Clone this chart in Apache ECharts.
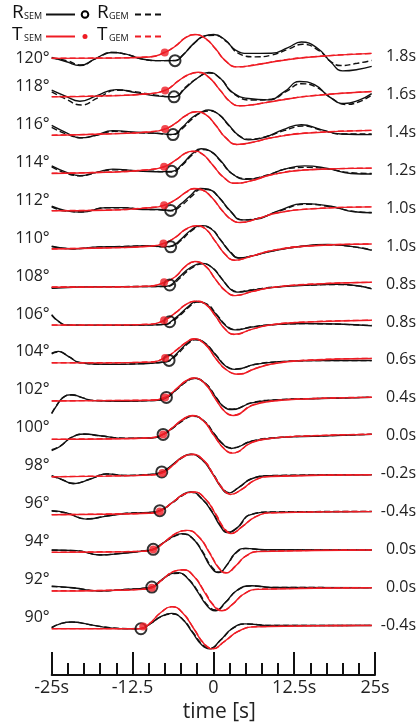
<!DOCTYPE html>
<html><head><meta charset="utf-8">
<script src="https://cdn.jsdelivr.net/npm/echarts@6/dist/echarts.min.js"></script>
<style>html,body{margin:0;padding:0;background:#fff}#c{width:419px;height:728px}</style>
</head><body><div id="c"></div>
<script>
// Epicentral distances (deg) and time-shift labels
const distances = [120,118,116,114,112,110,108,106,104,102,100,98,96,94,92,90];
const shiftLabels = ['1.8s','1.6s','1.4s','1.2s','1.0s','1.0s','0.8s','0.8s','0.6s','0.4s','0.0s','-0.2s','-0.4s','0.0s','0.0s','-0.4s'];
const xTickValues = [-25,-12.5,0,12.5,25];
const xTickLabels = ['-25s','-12.5','0','12.5s','25s'];

// pick markers: time [s] and amplitude offset
const circleT = [-5.93,-6.08,-6.24,-6.44,-6.6,-6.6,-6.75,-6.75,-6.85,-7.26,-7.77,-7.98,-8.28,-9.3,-9.51,-11.2];
const circleA = [-0.22,-0.13,-0.12,-0.06,-0.12,-0.04,-0.05,0.01,-0.03,0.02,0.07,0.09,0.05,0.01,0.02,-0.18];
const dotT = [-7.52,-7.46,-7.46,-7.62,-7.62,-7.72,-7.62,-7.62,-7.46,-7.46,-7.77,-7.87,-8.28,-9.3,-9.51,-10.84];
const dotA = [0.21,0.21,0.17,0.18,0.15,0.13,0.09,0.09,0.10,0.02,0.07,0.04,0.0,0.0,-0.02,-0.06];

// waveforms: [time s, amplitude]
const rSem120 = [[-25,-0.05],[-22.7,-0.28],[-20.65,-0.48],[-18.35,-0.14],[-15.8,0.21],[-13.5,0.12],[-11.45,-0.10],[-8.9,-0.22],[-5.9,-0.22],[-4.81,0.03],[-3.02,0.69],[-1.48,1.07],[0.05,1.16],[1.84,0.87],[3.37,0.35],[5.42,0.16],[9.0,0.17],[11.55,0.47],[13.6,0.76],[16.16,0.42],[18.2,-0.31],[19.99,-0.76],[22.29,-0.69],[24.49,-0.52]];
const rGem120 = [[-25,-0.10],[-22.7,-0.22],[-20.4,-0.45],[-18.1,-0.10],[-15.5,0.21],[-13.25,0.09],[-10.94,-0.14],[-8.38,-0.22],[-5.9,-0.21],[-4.81,0.05],[-3.02,0.67],[-1.38,1.07],[0.15,1.12],[2.1,0.76],[3.89,0.16],[6.44,-0.02],[9.0,0.07],[11.55,0.38],[13.85,0.64],[16.4,0.29],[18.2,-0.28],[19.7,-0.48],[22.29,-0.36],[24.49,-0.21]];
const tSem120 = [[-25,-0.10],[-16.56,-0.09],[-9.92,-0.03],[-7.52,0.21],[-5.83,0.55],[-4.29,0.99],[-2.86,1.16],[-1.23,0.95],[0.31,0.42],[1.84,-0.22],[3.63,-0.55],[6.44,-0.45],[10.02,-0.24],[15.13,-0.03],[24.49,0.16]];
const tGem120 = [[-25,-0.09],[-16.5,-0.08],[-9.9,-0.02],[-7.5,0.22],[-5.8,0.57],[-4.3,1.0],[-2.85,1.15],[-1.2,0.93],[0.35,0.39],[1.9,-0.24],[3.7,-0.55],[6.5,-0.44],[10.1,-0.23],[15.2,-0.02],[24.49,0.16]];

const rSem118 = [[-25,0.22],[-22.96,-0.08],[-20.65,-0.36],[-18.1,-0.08],[-15.03,0.25],[-11.96,0.09],[-8.9,-0.08],[-6.08,-0.13],[-4.29,0.34],[-2.5,0.85],[-0.72,1.16],[1.07,0.85],[2.86,0.13],[5.42,-0.22],[8.49,-0.29],[11.04,0.16],[13.34,0.68],[15.64,0.51],[17.94,-0.13],[20.24,-0.48],[22.54,-0.30],[24.49,0.04]];
const rGem118 = [[-25,0.13],[-22.96,-0.22],[-20.4,-0.56],[-17.84,-0.18],[-14.78,0.22],[-11.96,0.13],[-8.9,-0.04],[-6.08,-0.13],[-4.29,0.39],[-2.5,0.85],[-0.72,1.13],[1.22,0.79],[3.12,0.04],[5.93,-0.30],[9.0,-0.25],[11.3,0.16],[13.6,0.56],[15.9,0.39],[18.2,-0.18],[20.5,-0.53],[22.54,-0.39],[24.49,-0.04]];
const tSem118 = [[-25,-0.13],[-16.56,-0.08],[-10.43,0.02],[-7.46,0.21],[-5.32,0.73],[-3.78,1.06],[-2.35,1.17],[-0.72,0.91],[1.07,0.21],[2.61,-0.39],[3.99,-0.60],[6.44,-0.53],[10.02,-0.32],[15.13,-0.08],[24.49,0.15]];
const tGem118 = [[-25,-0.12],[-16.5,-0.07],[-10.4,0.03],[-7.45,0.22],[-5.3,0.74],[-3.75,1.05],[-2.3,1.15],[-0.68,0.89],[1.12,0.19],[2.66,-0.41],[4.05,-0.60],[6.5,-0.52],[10.1,-0.31],[15.2,-0.07],[24.49,0.15]];

const rSem116 = [[-25,0.36],[-22.7,-0.03],[-20.65,-0.29],[-18.35,-0.17],[-15.54,0.09],[-11.96,0.0],[-8.9,-0.05],[-6.24,-0.11],[-4.81,0.26],[-3.27,0.78],[-1.74,1.09],[-0.72,1.18],[0.82,0.95],[2.35,0.40],[3.89,-0.16],[5.42,-0.40],[7.98,-0.26],[10.79,0.14],[13.6,0.40],[16.67,0.14],[19.73,-0.09],[24.49,-0.12]];
const rGem116 = [[-25,0.26],[-22.7,-0.09],[-20.4,-0.29],[-18.1,-0.16],[-15.3,0.05],[-11.96,-0.02],[-8.9,-0.05],[-6.24,-0.13],[-4.81,0.19],[-3.27,0.71],[-1.64,1.06],[-0.56,1.12],[0.92,0.92],[2.45,0.33],[4.04,-0.19],[5.67,-0.36],[8.23,-0.22],[11.04,0.10],[13.85,0.33],[16.92,0.10],[19.73,-0.09],[24.49,-0.09]];
const tSem116 = [[-25,-0.16],[-16.56,-0.09],[-9.92,0.02],[-7.46,0.17],[-5.83,0.48],[-4.29,0.88],[-2.76,1.09],[-1.23,0.95],[0.31,0.40],[1.84,-0.26],[3.63,-0.64],[5.93,-0.54],[9.0,-0.29],[14.11,-0.05],[24.49,0.10]];
const tGem116 = [[-25,-0.15],[-16.5,-0.08],[-9.9,0.03],[-7.45,0.18],[-5.8,0.49],[-4.25,0.88],[-2.72,1.07],[-1.18,0.93],[0.36,0.37],[1.9,-0.28],[3.7,-0.64],[6.0,-0.53],[9.1,-0.28],[14.2,-0.04],[24.49,0.10]];

const rSem114 = [[-25,0.23],[-22.7,-0.11],[-20.65,-0.29],[-18.1,-0.11],[-15.54,0.06],[-11.96,-0.03],[-8.9,-0.08],[-6.44,-0.06],[-4.81,0.32],[-3.27,0.87],[-1.89,1.13],[-0.46,1.01],[1.07,0.53],[2.86,-0.17],[5.16,-0.48],[7.98,-0.31],[11.04,0.06],[14.11,0.23],[17.69,0.09],[21.27,-0.17],[24.49,-0.20]];
const rGem114 = [[-25,0.18],[-22.7,-0.17],[-20.4,-0.29],[-17.84,-0.10],[-15.3,0.02],[-11.96,-0.03],[-8.9,-0.06],[-6.44,-0.10],[-4.81,0.27],[-3.27,0.80],[-1.79,1.09],[-0.36,0.98],[1.17,0.46],[2.97,-0.20],[5.42,-0.45],[8.49,-0.24],[11.55,0.09],[14.62,0.15],[18.2,0.04],[21.27,-0.13],[24.49,-0.17]];
const tSem114 = [[-25,-0.17],[-16.56,-0.11],[-10.43,0.01],[-7.62,0.18],[-5.83,0.53],[-4.29,0.91],[-3.17,1.01],[-1.74,0.87],[-0.2,0.32],[1.58,-0.37],[3.37,-0.69],[5.93,-0.55],[9.0,-0.24],[14.11,0.01],[24.49,0.11]];
const tGem114 = [[-25,-0.16],[-16.5,-0.10],[-10.4,0.02],[-7.6,0.19],[-5.8,0.54],[-4.25,0.90],[-3.12,0.99],[-1.7,0.85],[-0.15,0.29],[1.63,-0.39],[3.42,-0.69],[6.0,-0.54],[9.1,-0.23],[14.2,0.02],[24.49,0.11]];

const rSem112 = [[-25,0.10],[-22.7,-0.14],[-20.4,-0.21],[-16.56,0.03],[-14.01,0.03],[-10.94,-0.07],[-8.38,-0.07],[-6.6,-0.12],[-5.06,0.21],[-3.53,0.67],[-1.99,1.04],[-0.72,1.0],[0.82,0.59],[2.61,-0.14],[4.4,-0.62],[6.44,-0.59],[10.02,-0.14],[14.11,0.24],[18.2,0.10],[21.78,-0.19],[24.49,-0.24]];
const rGem112 = [[-25,0.07],[-22.7,-0.16],[-20.4,-0.19],[-16.56,0.02],[-14.01,0.02],[-10.94,-0.05],[-8.38,-0.09],[-6.6,-0.14],[-4.91,0.15],[-3.37,0.62],[-1.84,1.0],[-0.61,0.97],[0.92,0.53],[2.71,-0.19],[4.5,-0.62],[6.7,-0.55],[10.28,-0.14],[14.37,0.21],[18.2,0.07],[21.78,-0.17],[24.49,-0.23]];
const tSem112 = [[-25,-0.14],[-16.56,-0.11],[-9.92,0.02],[-7.62,0.15],[-5.83,0.45],[-4.29,0.83],[-3.02,1.04],[-1.74,0.97],[-0.2,0.55],[1.33,-0.11],[2.86,-0.62],[4.14,-0.76],[6.95,-0.54],[10.02,-0.24],[15.13,-0.04],[24.49,0.07]];
const tGem112 = [[-25,-0.13],[-16.5,-0.10],[-9.9,0.03],[-7.6,0.16],[-5.8,0.46],[-4.25,0.83],[-2.98,1.02],[-1.7,0.95],[-0.15,0.52],[1.38,-0.14],[2.92,-0.63],[4.2,-0.75],[7.0,-0.53],[10.1,-0.23],[15.2,-0.03],[24.49,0.07]];

const rSem110 = [[-25,-0.01],[-21.68,-0.15],[-17.59,-0.04],[-14.01,-0.03],[-10.43,0.02],[-7.36,-0.03],[-6.34,0.02],[-5.06,0.34],[-3.53,0.82],[-1.99,1.08],[-0.46,0.94],[1.07,0.34],[2.61,-0.32],[3.89,-0.63],[5.93,-0.53],[9.0,-0.27],[13.6,-0.01],[17.69,0.08],[21.78,-0.04],[24.49,-0.22]];
const rGem110 = [[-25,-0.03],[-21.7,-0.14],[-17.6,-0.05],[-14.0,-0.02],[-10.4,0.01],[-7.4,-0.04],[-6.3,0.0],[-5.0,0.30],[-3.45,0.78],[-1.9,1.05],[-0.35,0.92],[1.15,0.31],[2.7,-0.33],[3.95,-0.62],[6.0,-0.52],[9.0,-0.26],[13.6,-0.02],[17.7,0.06],[21.8,-0.04],[24.49,-0.20]];
const tSem110 = [[-25,-0.15],[-16.56,-0.10],[-9.92,-0.01],[-7.72,0.13],[-5.83,0.47],[-4.29,0.89],[-2.6,1.08],[-1.23,0.91],[0.31,0.25],[1.84,-0.44],[3.22,-0.75],[5.93,-0.53],[9.0,-0.24],[14.11,-0.01],[24.49,0.11]];
const tGem110 = [[-25,-0.14],[-16.5,-0.09],[-9.9,0.0],[-7.7,0.14],[-5.8,0.48],[-4.25,0.88],[-2.55,1.06],[-1.18,0.89],[0.36,0.22],[1.9,-0.46],[3.28,-0.74],[6.0,-0.52],[9.1,-0.23],[14.2,0.0],[24.49,0.11]];

const rSem108 = [[-25,-0.22],[-21.68,-0.17],[-16.56,-0.14],[-11.45,-0.14],[-7.36,-0.12],[-6.6,-0.05],[-5.32,0.35],[-3.53,0.87],[-1.74,1.09],[-0.2,0.87],[1.33,0.26],[2.61,-0.26],[3.63,-0.43],[5.93,-0.33],[9.0,-0.19],[14.11,-0.07],[19.22,-0.02],[22.29,-0.09],[24.49,-0.26]];
const rGem108 = [[-25,-0.20],[-21.7,-0.16],[-16.6,-0.15],[-11.5,-0.13],[-7.4,-0.13],[-6.5,-0.07],[-5.2,0.30],[-3.4,0.83],[-1.65,1.06],[-0.1,0.85],[1.45,0.22],[2.75,-0.28],[3.8,-0.40],[6.1,-0.30],[9.1,-0.17],[14.2,-0.06],[19.3,-0.03],[22.3,-0.10],[24.49,-0.24]];
const tSem108 = [[-25,-0.17],[-16.56,-0.16],[-9.92,-0.12],[-7.62,0.07],[-5.83,0.40],[-4.29,0.95],[-2.86,1.19],[-1.23,0.95],[0.31,0.26],[1.84,-0.35],[3.37,-0.61],[5.93,-0.40],[9.0,-0.19],[14.11,-0.03],[24.49,0.09]];
const tGem108 = [[-25,-0.16],[-16.5,-0.15],[-9.9,-0.11],[-7.6,0.08],[-5.8,0.41],[-4.25,0.94],[-2.8,1.17],[-1.18,0.93],[0.36,0.23],[1.9,-0.37],[3.42,-0.60],[6.0,-0.39],[9.1,-0.18],[14.2,-0.02],[24.49,0.09]];

const rSem106 = [[-25,0.39],[-23.98,0.04],[-22.7,-0.17],[-16.56,-0.18],[-11.45,-0.17],[-7.36,-0.13],[-6.6,0.01],[-5.06,0.44],[-3.78,0.84],[-2.66,1.08],[-1.23,0.96],[0.31,0.44],[1.84,-0.17],[3.37,-0.42],[5.93,-0.27],[9.0,-0.15],[14.11,-0.08],[19.22,-0.11],[24.49,-0.20]];
const rGem106 = [[-25,0.35],[-23.9,0.02],[-22.6,-0.16],[-16.5,-0.17],[-11.4,-0.16],[-7.3,-0.12],[-6.5,0.0],[-4.95,0.41],[-3.65,0.82],[-2.5,1.05],[-1.05,0.95],[0.5,0.40],[2.0,-0.19],[3.5,-0.40],[6.0,-0.26],[9.1,-0.15],[14.2,-0.09],[19.3,-0.12],[24.49,-0.19]];
const tSem106 = [[-25,-0.17],[-16.56,-0.17],[-9.92,-0.13],[-7.62,0.08],[-5.83,0.49],[-4.29,0.91],[-2.76,1.10],[-1.23,0.94],[0.31,0.32],[1.84,-0.39],[3.22,-0.65],[5.93,-0.39],[9.0,-0.15],[14.11,-0.01],[24.49,0.09]];
const tGem106 = [[-25,-0.16],[-16.5,-0.16],[-9.9,-0.12],[-7.6,0.09],[-5.8,0.50],[-4.25,0.92],[-2.7,1.09],[-1.15,0.92],[0.4,0.28],[1.95,-0.42],[3.3,-0.66],[6.0,-0.38],[9.1,-0.14],[14.2,0.0],[24.49,0.09]];

const rSem104 = [[-25,0.36],[-23.98,0.45],[-22.44,0.19],[-20.65,-0.14],[-16.56,-0.24],[-11.45,-0.21],[-7.36,-0.10],[-6.6,0.02],[-5.32,0.45],[-4.04,0.88],[-2.91,1.09],[-1.48,0.92],[0.31,0.28],[1.84,-0.31],[3.37,-0.50],[6.44,-0.24],[10.02,-0.10],[16.67,-0.03],[24.49,-0.03]];
const rGem104 = [[-25,0.32],[-23.9,0.42],[-22.35,0.17],[-20.55,-0.15],[-16.5,-0.23],[-11.4,-0.20],[-7.3,-0.10],[-6.5,0.01],[-5.2,0.42],[-3.9,0.86],[-2.8,1.06],[-1.35,0.90],[0.45,0.24],[1.98,-0.33],[3.5,-0.48],[6.55,-0.23],[10.1,-0.10],[16.7,-0.04],[24.49,-0.04]];
const tSem104 = [[-25,-0.16],[-16.56,-0.16],[-9.92,-0.12],[-7.46,0.10],[-5.83,0.48],[-4.29,0.90],[-3.02,1.11],[-1.23,0.80],[0.31,0.10],[1.94,-0.50],[3.89,-0.76],[6.44,-0.47],[9.0,-0.22],[14.11,-0.03],[24.49,0.07]];
const tGem104 = [[-25,-0.15],[-16.5,-0.15],[-9.9,-0.11],[-7.45,0.11],[-5.8,0.50],[-4.25,0.91],[-2.95,1.09],[-1.15,0.78],[0.4,0.06],[2.05,-0.53],[3.95,-0.74],[6.5,-0.45],[9.1,-0.21],[14.2,-0.02],[24.49,0.08]];

const rSem102 = [[-25,-0.84],[-24.23,-0.41],[-23.21,0.02],[-21.93,0.16],[-20.4,0.02],[-18.61,-0.15],[-14.01,-0.18],[-9.41,-0.15],[-7.36,-0.01],[-5.83,0.40],[-4.29,0.85],[-3.02,1.03],[-1.23,0.75],[0.31,0.06],[1.58,-0.46],[2.86,-0.62],[5.93,-0.27],[10.02,-0.11],[16.67,-0.04],[24.49,0.02]];
const rGem102 = [[-25,-0.80],[-24.2,-0.38],[-23.15,0.04],[-21.85,0.15],[-20.3,0.01],[-18.5,-0.14],[-14.0,-0.17],[-9.4,-0.14],[-7.3,0.0],[-5.75,0.41],[-4.2,0.84],[-2.95,1.01],[-1.1,0.72],[0.45,0.02],[1.72,-0.49],[3.0,-0.60],[6.0,-0.25],[10.1,-0.10],[16.7,-0.03],[24.49,0.03]];
const tSem102 = [[-25,-0.17],[-16.56,-0.15],[-9.92,-0.13],[-7.46,0.02],[-5.83,0.44],[-4.29,0.89],[-3.02,1.05],[-1.23,0.72],[0.31,-0.06],[1.84,-0.75],[3.12,-0.93],[5.93,-0.41],[9.0,-0.18],[14.11,-0.06],[24.49,0.02]];
const tGem102 = [[-25,-0.16],[-16.5,-0.14],[-9.9,-0.12],[-7.45,0.03],[-5.8,0.45],[-4.25,0.88],[-2.95,1.03],[-1.15,0.69],[0.4,-0.10],[1.95,-0.77],[3.2,-0.91],[6.0,-0.39],[9.1,-0.17],[14.2,-0.05],[24.49,0.03]];

const rSem100 = [[-25,-0.78],[-23.72,-0.57],[-21.93,-0.09],[-19.89,0.09],[-17.59,0.0],[-13.5,-0.14],[-9.41,-0.12],[-7.77,0.07],[-6.34,0.40],[-4.81,0.81],[-3.27,1.06],[-1.48,0.78],[0.05,0.12],[1.58,-0.48],[2.76,-0.67],[5.93,-0.29],[10.02,-0.10],[16.67,-0.02],[24.49,0.07]];
const rGem100 = [[-25,-0.74],[-23.65,-0.54],[-21.85,-0.07],[-19.8,0.08],[-17.5,-0.01],[-13.4,-0.13],[-9.35,-0.11],[-7.7,0.08],[-6.25,0.40],[-4.7,0.80],[-3.15,1.03],[-1.35,0.75],[0.2,0.08],[1.72,-0.50],[2.9,-0.64],[6.0,-0.27],[10.1,-0.09],[16.7,-0.01],[24.49,0.08]];
const tSem100 = [[-25,-0.19],[-16.56,-0.17],[-9.92,-0.12],[-7.77,0.07],[-6.34,0.42],[-4.81,0.85],[-3.27,1.07],[-1.48,0.76],[0.05,0.03],[1.74,-0.71],[2.97,-0.92],[5.93,-0.36],[9.0,-0.14],[14.11,-0.02],[24.49,0.07]];
const tGem100 = [[-25,-0.18],[-16.5,-0.16],[-9.9,-0.11],[-7.75,0.08],[-6.3,0.43],[-4.75,0.84],[-3.2,1.05],[-1.4,0.74],[0.12,0.0],[1.82,-0.73],[3.05,-0.90],[6.0,-0.34],[9.1,-0.13],[14.2,-0.01],[24.49,0.08]];

const rSem98 = [[-25,-0.10],[-23.47,-0.30],[-21.68,-0.53],[-19.12,-0.30],[-16.56,-0.01],[-13.5,-0.10],[-9.92,-0.05],[-7.98,0.08],[-6.34,0.47],[-4.81,0.87],[-3.53,1.03],[-1.74,0.73],[-0.2,0.04],[1.23,-0.74],[2.25,-1.03],[3.89,-0.74],[5.93,-0.27],[9.0,-0.11],[24.49,-0.06]];
const rGem98 = [[-25,-0.12],[-23.4,-0.32],[-21.6,-0.51],[-19.05,-0.28],[-16.5,-0.02],[-13.45,-0.09],[-9.9,-0.04],[-7.95,0.09],[-6.28,0.47],[-4.72,0.86],[-3.42,1.01],[-1.62,0.70],[-0.05,0.0],[1.38,-0.74],[2.4,-1.0],[4.02,-0.70],[6.05,-0.25],[9.1,-0.10],[24.49,-0.05]];
const tSem98 = [[-25,-0.17],[-16.56,-0.13],[-9.92,-0.08],[-7.87,0.04],[-6.34,0.42],[-4.81,0.87],[-3.37,1.03],[-1.48,0.70],[0.05,-0.10],[1.58,-0.86],[2.61,-1.10],[4.4,-0.83],[6.44,-0.34],[9.0,-0.15],[24.49,-0.06]];
const tGem98 = [[-25,-0.16],[-16.5,-0.12],[-9.9,-0.07],[-7.85,0.05],[-6.3,0.43],[-4.75,0.86],[-3.3,1.01],[-1.4,0.67],[0.15,-0.14],[1.68,-0.88],[2.72,-1.08],[4.5,-0.80],[6.55,-0.32],[9.1,-0.14],[24.49,-0.05]];

const rSem96 = [[-25,0.05],[-22.7,-0.07],[-19.63,-0.40],[-16.56,-0.24],[-13.5,-0.10],[-9.92,-0.05],[-8.28,0.05],[-6.34,0.48],[-4.81,0.88],[-3.53,1.04],[-1.74,0.66],[-0.2,-0.03],[1.07,-0.76],[2.1,-1.11],[3.63,-0.87],[5.67,-0.17],[9.0,-0.03],[24.49,0.0]];
const rGem96 = [[-25,0.03],[-22.65,-0.08],[-19.55,-0.38],[-16.5,-0.23],[-13.45,-0.09],[-9.9,-0.04],[-8.25,0.06],[-6.28,0.47],[-4.72,0.86],[-3.42,1.01],[-1.62,0.62],[-0.05,-0.07],[1.22,-0.77],[2.25,-1.08],[3.78,-0.83],[5.8,-0.15],[9.1,-0.02],[24.49,0.01]];
const tSem96 = [[-25,-0.17],[-16.56,-0.14],[-9.92,-0.09],[-8.28,0.02],[-6.34,0.48],[-4.55,0.92],[-3.02,1.04],[-1.23,0.66],[0.31,-0.12],[1.58,-0.87],[2.71,-1.16],[4.4,-0.81],[6.44,-0.29],[9.0,-0.07],[24.49,0.0]];
const tGem96 = [[-25,-0.16],[-16.5,-0.13],[-9.9,-0.08],[-8.25,0.03],[-6.3,0.49],[-4.5,0.91],[-2.95,1.02],[-1.15,0.63],[0.42,-0.15],[1.7,-0.88],[2.82,-1.13],[4.52,-0.78],[6.55,-0.27],[9.1,-0.06],[24.49,0.01]];

const rSem94 = [[-25,-0.03],[-21.17,-0.06],[-17.59,-0.29],[-14.01,-0.20],[-10.94,-0.08],[-9.3,0.01],[-7.87,0.32],[-6.34,0.66],[-4.81,0.84],[-3.27,0.61],[-1.74,-0.11],[-0.46,-0.89],[0.82,-1.22],[2.1,-0.81],[3.37,-0.20],[4.91,0.06],[7.98,-0.01],[24.49,-0.03]];
const rGem94 = [[-25,-0.04],[-21.1,-0.07],[-17.5,-0.28],[-13.95,-0.19],[-10.9,-0.07],[-9.28,0.02],[-7.82,0.33],[-6.27,0.65],[-4.7,0.81],[-3.15,0.57],[-1.6,-0.14],[-0.32,-0.88],[0.95,-1.18],[2.22,-0.77],[3.5,-0.18],[5.05,0.05],[8.1,-0.02],[24.49,-0.02]];
const tSem94 = [[-25,-0.15],[-16.56,-0.13],[-10.94,-0.10],[-9.3,-0.01],[-7.62,0.37],[-5.83,0.84],[-4.04,1.01],[-2.25,0.66],[-0.72,-0.11],[0.82,-0.98],[1.94,-1.24],[3.37,-0.89],[4.91,-0.37],[6.95,-0.11],[24.49,-0.03]];
const tGem94 = [[-25,-0.14],[-16.5,-0.12],[-10.9,-0.09],[-9.28,0.0],[-7.58,0.38],[-5.78,0.85],[-3.98,1.0],[-2.18,0.64],[-0.62,-0.14],[0.92,-0.99],[2.05,-1.22],[3.48,-0.86],[5.02,-0.35],[7.05,-0.10],[24.49,-0.02]];

const rSem92 = [[-25,0.07],[-21.68,-0.02],[-17.59,-0.19],[-14.01,-0.12],[-10.94,-0.05],[-9.51,0.02],[-8.13,0.36],[-6.6,0.71],[-5.42,0.78],[-4.04,0.50],[-2.5,-0.19],[-0.97,-0.97],[0.31,-1.23],[1.84,-0.80],[3.63,-0.16],[5.93,0.09],[9.0,0.0],[24.49,-0.02]];
const rGem92 = [[-25,0.05],[-21.6,-0.03],[-17.5,-0.18],[-13.95,-0.11],[-10.9,-0.04],[-9.48,0.03],[-8.08,0.37],[-6.52,0.70],[-5.3,0.75],[-3.9,0.46],[-2.35,-0.22],[-0.82,-0.96],[0.45,-1.19],[1.98,-0.76],[3.75,-0.14],[6.05,0.08],[9.1,0.0],[24.49,-0.01]];
const tSem92 = [[-25,-0.19],[-16.56,-0.16],[-10.94,-0.10],[-9.51,-0.02],[-7.87,0.42],[-6.08,0.85],[-4.65,0.93],[-3.02,0.59],[-1.48,-0.19],[0.05,-0.97],[1.33,-1.23],[2.86,-0.92],[4.65,-0.36],[6.95,-0.10],[24.49,-0.02]];
const tGem92 = [[-25,-0.18],[-16.5,-0.15],[-10.9,-0.09],[-9.48,-0.01],[-7.82,0.43],[-6.02,0.86],[-4.58,0.92],[-2.92,0.56],[-1.35,-0.22],[0.18,-0.98],[1.45,-1.21],[2.98,-0.89],[4.78,-0.33],[7.05,-0.09],[24.49,-0.01]];

const rSem90 = [[-25,-0.13],[-23.72,0.08],[-21.93,0.18],[-19.12,0.04],[-16.05,-0.13],[-12.99,-0.18],[-11.2,-0.17],[-9.66,0.11],[-8.13,0.46],[-6.44,0.63],[-4.81,0.34],[-3.27,-0.36],[-1.74,-1.05],[-0.61,-1.24],[1.07,-0.79],[2.86,-0.18],[4.91,0.08],[9.0,-0.01],[24.49,-0.01]];
const rGem90 = [[-25,-0.11],[-23.65,0.09],[-21.85,0.17],[-19.05,0.03],[-16.0,-0.12],[-12.95,-0.17],[-11.18,-0.16],[-9.6,0.12],[-8.05,0.46],[-6.33,0.60],[-4.68,0.30],[-3.12,-0.39],[-1.6,-1.04],[-0.46,-1.20],[1.22,-0.75],[3.0,-0.16],[5.05,0.07],[9.1,-0.01],[24.49,0.0]];
const tSem90 = [[-25,-0.18],[-16.56,-0.18],[-11.45,-0.18],[-9.92,0.08],[-8.13,0.68],[-6.44,0.99],[-4.81,0.68],[-3.02,-0.18],[-1.48,-0.96],[-0.1,-1.24],[1.58,-0.88],[3.89,-0.31],[6.44,-0.08],[24.49,-0.01]];
const tGem90 = [[-25,-0.17],[-16.5,-0.17],[-11.4,-0.17],[-9.88,0.09],[-8.08,0.69],[-6.38,0.98],[-4.74,0.66],[-2.95,-0.20],[-1.4,-0.97],[0.02,-1.22],[1.7,-0.86],[4.0,-0.29],[6.55,-0.07],[24.49,0.0]];

const rSemList = [rSem120,rSem118,rSem116,rSem114,rSem112,rSem110,rSem108,rSem106,rSem104,rSem102,rSem100,rSem98,rSem96,rSem94,rSem92,rSem90];
const rGemList = [rGem120,rGem118,rGem116,rGem114,rGem112,rGem110,rGem108,rGem106,rGem104,rGem102,rGem100,rGem98,rGem96,rGem94,rGem92,rGem90];
const tSemList = [tSem120,tSem118,tSem116,tSem114,tSem112,tSem110,tSem108,tSem106,tSem104,tSem102,tSem100,tSem98,tSem96,tSem94,tSem92,tSem90];
const tGemList = [tGem120,tGem118,tGem116,tGem114,tGem112,tGem110,tGem108,tGem106,tGem104,tGem102,tGem100,tGem98,tGem96,tGem94,tGem92,tGem90];

const BLACK = '#111111', RED = '#ee1c24';
const FONT = 'Open Sans';
const YMIN = 87.377, YMAX = 122.977;

const series = [];
function lineSeries(arr, d, color, dashed, z) {
  return {
    type: 'line', data: arr.map(p => [p[0], d + p[1]]),
    smooth: 0.5, symbol: 'none', showSymbol: false, clip: false,
    lineStyle: { color: color, width: 1.4, type: dashed ? [6, 3] : 'solid' },
    z: z, silent: true, animation: false
  };
}
distances.forEach((d, i) => {
  series.push(lineSeries(rSemList[i], d, BLACK, false, 2));
  series.push(lineSeries(rGemList[i], d, BLACK, true, 2));
  series.push(lineSeries(tSemList[i], d, RED, false, 3));
  series.push(lineSeries(tGemList[i], d, RED, true, 3));
});
series.push({
  type: 'scatter', data: distances.map((d, i) => [circleT[i], d + circleA[i]]),
  symbol: 'circle', symbolSize: 11, clip: false, silent: true, z: 5,
  itemStyle: { color: 'rgba(0,0,0,0)', borderColor: '#000', borderWidth: 2 }
});
series.push({
  type: 'scatter', data: distances.map((d, i) => [dotT[i], d + dotA[i]]),
  symbol: 'circle', symbolSize: 8, clip: false, silent: true, z: 6,
  itemStyle: { color: RED, borderWidth: 0 }
});

const chart = echarts.init(document.getElementById('c'), null, { renderer: 'canvas' });
const legendGraphics = [
  { type: 'text', left: 12, top: 3, style: { text: 'R', fontSize: 19, fontFamily: FONT, fill: '#111' } },
  { type: 'text', left: 24, top: 12, style: { text: 'SEM', fontSize: 9, fontFamily: FONT, fill: '#111' } },
  { type: 'line', shape: { x1: 46, y1: 14.5, x2: 75, y2: 14.5 }, style: { stroke: BLACK, lineWidth: 2 } },
  { type: 'circle', shape: { cx: 85, cy: 14.5, r: 3.3 }, style: { fill: 'none', stroke: '#000', lineWidth: 2 } },
  { type: 'text', left: 97, top: 3, style: { text: 'R', fontSize: 19, fontFamily: FONT, fill: '#111' } },
  { type: 'text', left: 109, top: 12, style: { text: 'GEM', fontSize: 9, fontFamily: FONT, fill: '#111' } },
  { type: 'line', shape: { x1: 135, y1: 14.5, x2: 163, y2: 14.5 }, style: { stroke: BLACK, lineWidth: 2, lineDash: [6, 4] } },
  { type: 'text', left: 12, top: 25, style: { text: 'T', fontSize: 19, fontFamily: FONT, fill: '#111' } },
  { type: 'text', left: 24, top: 34, style: { text: 'SEM', fontSize: 9, fontFamily: FONT, fill: '#111' } },
  { type: 'line', shape: { x1: 46, y1: 36.5, x2: 75, y2: 36.5 }, style: { stroke: RED, lineWidth: 2 } },
  { type: 'circle', shape: { cx: 85, cy: 36.5, r: 2.5 }, style: { fill: RED } },
  { type: 'text', left: 97, top: 25, style: { text: 'T', fontSize: 19, fontFamily: FONT, fill: '#111' } },
  { type: 'text', left: 109, top: 34, style: { text: 'GEM', fontSize: 9, fontFamily: FONT, fill: '#111' } },
  { type: 'line', shape: { x1: 135, y1: 36.5, x2: 163, y2: 36.5 }, style: { stroke: RED, lineWidth: 2, lineDash: [6, 4] } }
];

chart.setOption({
  animation: false,
  backgroundColor: '#fff',
  grid: { left: 51.7, right: 41.3, top: 0, bottom: 42.7, containLabel: false },
  xAxis: {
    type: 'value', min: -25, max: 25, interval: 12.5,
    axisLine: { show: true, onZero: false, lineStyle: { color: '#111', width: 2 } },
    axisTick: { show: true, inside: true, length: 23, lineStyle: { color: '#111', width: 2 } },
    minorTick: { show: true, splitNumber: 5, length: 12, lineStyle: { color: '#111', width: 2 } },
    splitLine: { show: false }, minorSplitLine: { show: false },
    axisLabel: {
      margin: 4, fontSize: 18, fontFamily: FONT, color: '#222',
      showMinLabel: true, showMaxLabel: true,
      formatter: v => { const k = xTickValues.indexOf(v); return k >= 0 ? xTickLabels[k] : ''; }
    },
    name: 'time [s]', nameLocation: 'middle', nameGap: 15,
    nameTextStyle: { fontSize: 21, fontFamily: FONT, color: '#222', padding: [0, 0, 0, 12] }
  },
  yAxis: [
    {
      type: 'value', min: YMIN, max: YMAX, position: 'left',
      axisLine: { show: false }, axisTick: { show: false }, splitLine: { show: false },
      axisLabel: {
        customValues: distances, margin: 2,
        formatter: v => (v === 120 ? '{b|' + v + '°}' : '{a|' + v + '°}'),
        rich: {
          a: { fontSize: 16, fontFamily: FONT, color: '#222', padding: [0, 0, 16, 0] },
          b: { fontSize: 16, fontFamily: FONT, color: '#222', padding: [4, 0, 0, 0] }
        }
      }
    },
    {
      type: 'value', min: YMIN, max: YMAX, position: 'right',
      axisLine: { show: false }, axisTick: { show: false }, splitLine: { show: false },
      axisLabel: {
        customValues: distances, margin: 41, align: 'right',
        fontSize: 16, fontFamily: FONT, color: '#222',
        formatter: v => { const k = distances.indexOf(v); return k >= 0 ? shiftLabels[k] : ''; }
      }
    }
  ],
  graphic: legendGraphics,
  series: series
});
</script>
</body></html>
